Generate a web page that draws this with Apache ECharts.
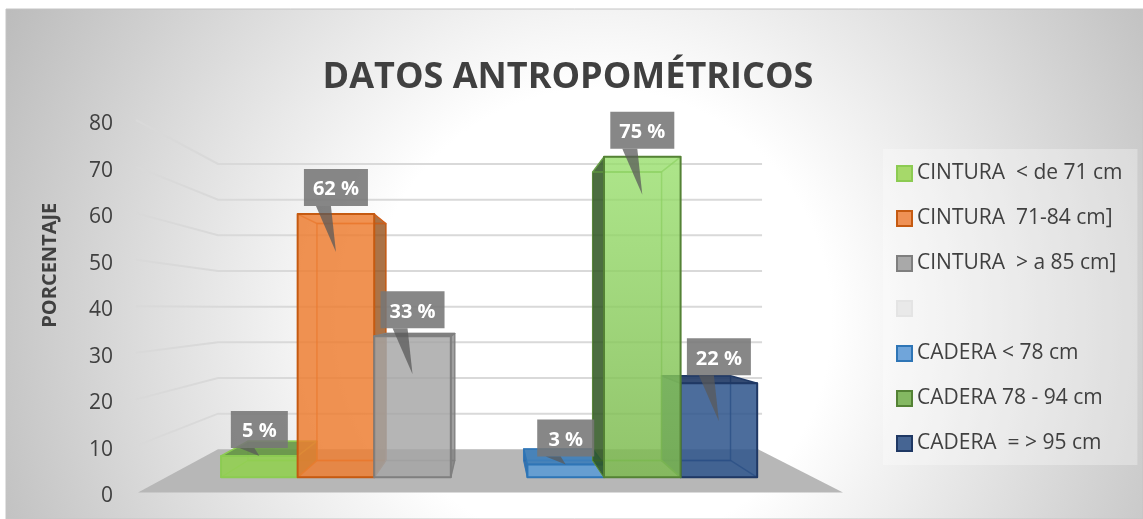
<!DOCTYPE html>
<html>
<head>
<meta charset="utf-8">
<title>Datos antropometricos</title>
<script src="https://cdn.jsdelivr.net/npm/echarts@6/dist/echarts.min.js"></script>
<style>
  html, body { margin: 0; padding: 0; background: #ffffff; }
  #main { width: 1143px; height: 519px; }
</style>
</head>
<body>
<div id="main"></div>
<script>
var seriesNames = ['CINTURA  < de 71 cm', 'CINTURA  71-84 cm]', 'CINTURA  > a 85 cm]', ' ', 'CADERA < 78 cm', 'CADERA 78 - 94 cm', 'CADERA  = > 95 cm'];
var seriesValues = [5, 61.6, 33, null, 3, 75, 22];
var yTicks = [0, 10, 20, 30, 40, 50, 60, 70, 80];

// fill, edge, outer side, top face, inner edge
var barStyles = [
  { fill: 'rgba(146,208,80,0.88)', edge: '#8ccb52', side: 'rgba(90,140,50,0.8)', top: 'rgba(100,150,65,0.9)', inner: 'rgba(130,190,70,0.6)', legend: '#a6d96a' },
  { fill: 'rgba(237,125,49,0.84)', edge: '#c55a11', side: 'rgba(150,80,25,0.8)', top: 'rgba(170,90,30,0.8)', inner: 'rgba(215,95,25,0.7)', legend: '#ef9155' },
  { fill: 'rgba(165,165,165,0.82)', edge: '#7f7f7f', side: 'rgba(120,120,120,0.7)', top: 'rgba(115,115,115,0.9)', inner: 'rgba(130,130,130,0.5)', legend: '#a9a9a9' },
  { fill: 'rgba(230,230,230,0.5)', edge: '#e4e4e4', side: '#e4e4e4', top: '#e4e4e4', inner: '#e4e4e4', legend: '#e9e9e9' },
  { fill: 'rgba(91,155,213,0.88)', edge: '#2e75b6', side: 'rgba(40,100,165,0.85)', top: 'rgba(60,125,185,0.9)', inner: 'rgba(50,120,190,0.6)', legend: '#70a5da' },
  { fill: new echarts.graphic.LinearGradient(0, 0, 0, 1, [
      { offset: 0, color: 'rgba(150,222,105,0.78)' },
      { offset: 1, color: 'rgba(125,185,80,0.85)' }
    ]), edge: '#548235', side: 'rgba(45,85,30,0.85)', top: 'rgba(45,85,30,0.85)', inner: 'rgba(110,170,75,0.7)', legend: '#84b862' },
  { fill: 'rgba(47,85,140,0.86)', edge: '#1f3864', side: 'rgba(40,70,120,0.86)', top: 'rgba(30,55,100,0.9)', inner: 'rgba(25,50,95,0.8)', legend: '#466593' }
];
var barOrder = [3, 4, 5, 1, 3, 6, 4];

var floorVanish = [480, 308], barVanish = [490.5, 308];
var wallDepth = 0.766, barFront = 0.918, barBack = 0.9;

function project(pt, vp, k) {
  return [vp[0] + (pt[0] - vp[0]) * k, vp[1] + (pt[1] - vp[1]) * k];
}

function renderWall(params, api) {
  var v = api.value(0);
  var front = api.coord([-0.707, v]);
  var back = project(front, floorVanish, wallDepth);
  if (v === 0) {
    var fr = api.coord([7.743, 0]);
    var br = project(fr, floorVanish, wallDepth);
    return { type: 'polygon', shape: { points: [front, back, br, fr] }, style: { fill: '#b7b7b7' } };
  }
  var end = project(api.coord([7.743, v]), floorVanish, wallDepth);
  return {
    type: 'polyline',
    shape: { points: [[front[0] - 2, front[1]], back, [end[0] + 4, end[1]]] },
    style: { stroke: '#d9d9d9', lineWidth: 2, fill: null }
  };
}

function renderBar(params, api) {
  var slot = api.value(0), val = api.value(1);
  var st = barStyles[slot];
  var a = api.coord([slot, 0]), b = api.coord([slot + 1, 0]);
  var c = api.coord([slot + 1, val]), d = api.coord([slot, val]);
  var f = [a, b, c, d].map(function (p) { return project(p, barVanish, barFront); });
  var k = [a, b, c, d].map(function (p) { return project(p, barVanish, barFront * barBack); });
  var kids = [];
  function poly(points, fill, stroke, width) {
    kids.push({ type: 'polygon', shape: { points: points }, style: { fill: fill || 'transparent', stroke: stroke, lineWidth: width || 0, lineJoin: 'round' } });
  }
  // the side that sticks out from the front face
  var outer = f[0][0] < barVanish[0] ? [f[1], k[1], k[2], f[2]] : [f[0], k[0], k[3], f[3]];
  poly(k, null, st.inner, 1.5);
  poly([f[0], f[1], k[1], k[0]], null, st.inner, 1.5);
  poly(outer, st.side, st.edge, 1);
  if (k[3][1] < f[3][1]) {
    poly([f[3], f[2], k[2], k[3]], st.top, st.edge, 1.5);
  } else {
    poly([f[3], f[2], k[2], k[3]], null, st.inner, 1.5);
  }
  poly(f, st.fill, st.edge, 2);
  return { type: 'group', children: kids };
}

function renderLabel(params, api) {
  var slot = api.value(0), val = api.value(1);
  var front = project(api.coord([slot + 0.5, val]), barVanish, barFront);
  var text = Math.round(val) + ' %';
  var w = val >= 10 ? 64 : 57, h = 37;
  var cx = front[0], bottom = front[1] - 8;
  var drop = val >= 10 ? 38 : 0;
  return {
    type: 'group',
    children: [
      { type: 'rect', shape: { x: cx - w / 2, y: bottom - h, width: w, height: h }, style: { fill: 'rgba(118,118,118,0.88)' } },
      { type: 'polygon', shape: { points: [[cx - 20, bottom], [cx - 5, bottom], [cx, front[1] + drop]] }, style: { fill: 'rgba(90,90,90,0.75)' } },
      { type: 'text', style: { text: text, x: cx, y: bottom - h / 2 + 2, align: 'center', verticalAlign: 'middle', fill: '#ffffff', font: 'bold 20px "Open Sans"' } }
    ]
  };
}

var chartDom = document.getElementById('main');
var myChart = echarts.init(chartDom);

var barSeries = seriesNames.map(function (name, i) {
  return {
    type: 'custom',
    name: name,
    coordinateSystem: 'cartesian2d',
    renderItem: renderBar,
    z: barOrder[i],
    silent: true,
    encode: { x: 0, y: 1 },
    data: seriesValues[i] === null ? [] : [[i, seriesValues[i]]]
  };
});

var option = {
  animation: false,
  textStyle: { fontFamily: 'Open Sans' },
  graphic: [{
    type: 'rect',
    z: -10,
    silent: true,
    shape: { x: 6, y: 9, width: 1137, height: 510 },
    style: {
      fill: new echarts.graphic.RadialGradient(600, 320, 680, [
        { offset: 0, color: '#ffffff' },
        { offset: 0.34, color: '#ffffff' },
        { offset: 1, color: '#bababa' }
      ], true),
      stroke: '#c4c4c4',
      lineWidth: 1
    }
  }],
  title: {
    text: 'DATOS ANTROPOMÉTRICOS',
    left: 563,
    top: 55,
    textAlign: 'center',
    textStyle: { fontFamily: 'Open Sans', fontWeight: 'bold', fontSize: 36, color: '#404040' }
  },
  legend: {
    orient: 'vertical',
    left: 883,
    top: 149,
    padding: [11, 15, 8, 13],
    itemGap: 18,
    itemWidth: 15,
    itemHeight: 15,
    selectedMode: false,
    backgroundColor: 'rgba(255,255,255,0.3)',
    textStyle: { fontFamily: 'Open Sans', fontSize: 21, color: '#404040', lineHeight: 27 },
    data: seriesNames.map(function (name, i) {
      return { name: name, icon: 'rect', itemStyle: { color: barStyles[i].legend, borderColor: barStyles[i].edge, borderWidth: 2 } };
    })
  },
  grid: { left: 138, right: 300, top: 120, height: 372.5 },
  xAxis: { type: 'value', min: -0.707, max: 7.743, show: false },
  yAxis: {
    type: 'value',
    min: 0,
    max: 80,
    interval: 10,
    name: 'PORCENTAJE',
    nameLocation: 'middle',
    nameRotate: 90,
    nameGap: 78,
    nameTextStyle: { fontFamily: 'Open Sans', fontWeight: 'bold', fontSize: 20, color: '#404040', padding: [0, 0, 0, 82] },
    axisLine: { show: false },
    axisTick: { show: false },
    splitLine: { show: false },
    axisLabel: { margin: 25, fontFamily: 'Open Sans', fontSize: 21, color: '#404040', verticalAlign: 'top', lineHeight: 8 }
  },
  series: [{
    type: 'custom',
    name: 'wall',
    coordinateSystem: 'cartesian2d',
    renderItem: renderWall,
    z: 1,
    silent: true,
    encode: { y: 0 },
    data: yTicks.map(function (v) { return [v]; })
  }].concat(barSeries).concat([{
    type: 'custom',
    name: 'labels',
    coordinateSystem: 'cartesian2d',
    renderItem: renderLabel,
    z: 20,
    silent: true,
    encode: { x: 0, y: 1 },
    data: seriesValues.map(function (v, i) { return [i, v]; }).filter(function (d) { return d[1] !== null; })
  }])
};

myChart.setOption(option);
</script>
</body>
</html>
